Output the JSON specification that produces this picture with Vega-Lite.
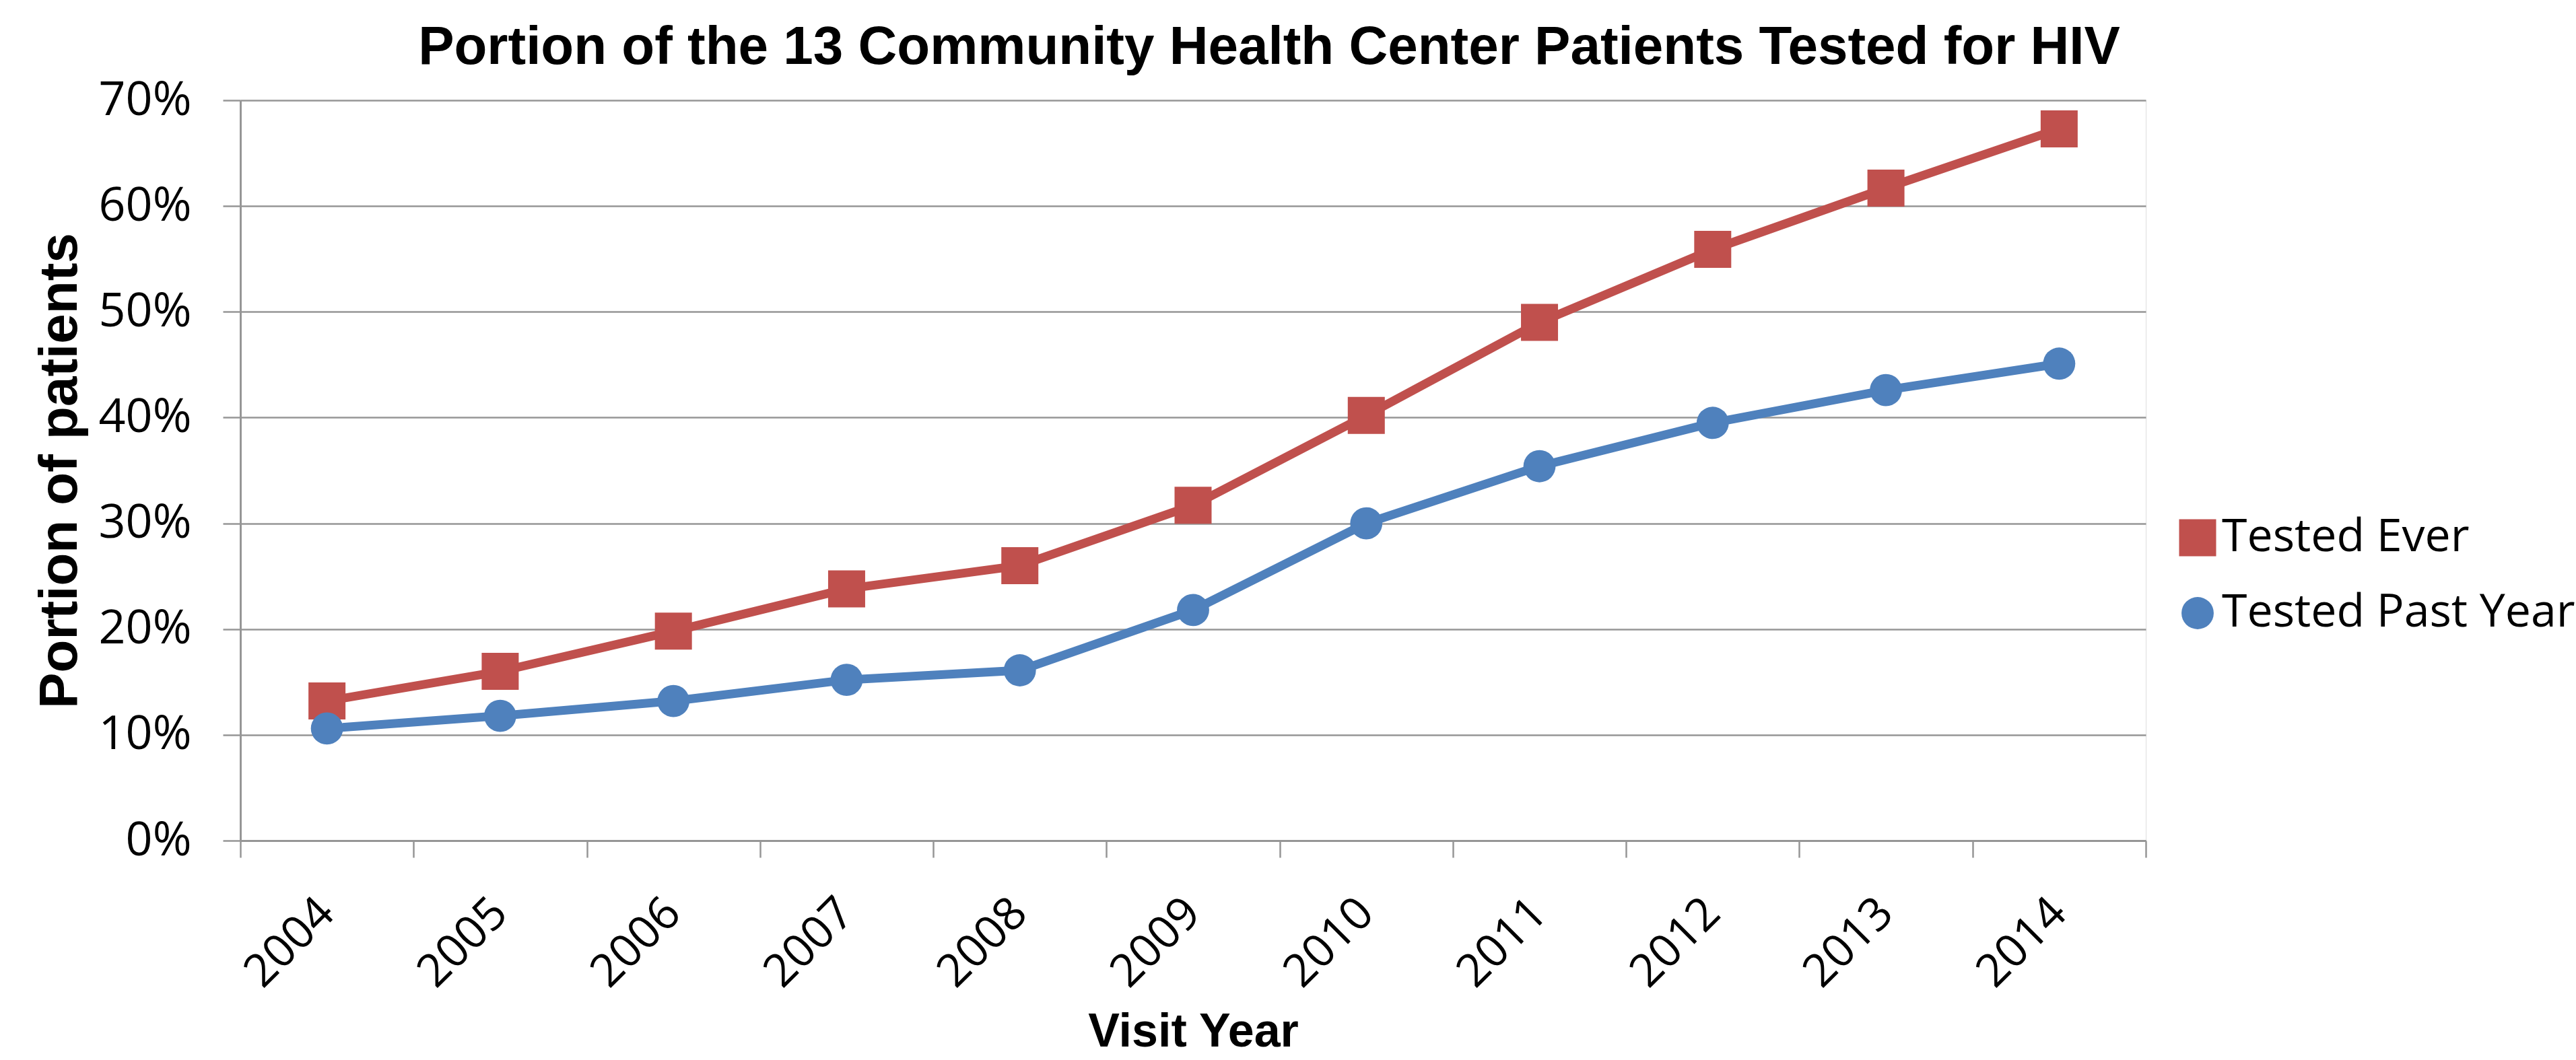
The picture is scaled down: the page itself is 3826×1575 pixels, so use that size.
{
  "$schema": "https://vega.github.io/schema/vega-lite/v6.json",
  "width": 2830,
  "height": 1100,
  "autosize": {"type": "none"},
  "padding": {"left": 357, "top": 149, "right": 639, "bottom": 326},
  "background": "white",
  "title": {
    "text": "Portion of the 13 Community Health Center Patients Tested for HIV",
    "font": "Liberation Sans",
    "fontSize": 80,
    "fontWeight": "bold",
    "color": "black",
    "anchor": "middle",
    "frame": "group",
    "dx": 113,
    "dy": 81,
    "baseline": "alphabetic",
    "offset": 20
  },
  "data": {
    "values": [
      {"year": "2004", "series": "Tested Ever", "value": 0.132},
      {"year": "2005", "series": "Tested Ever", "value": 0.160},
      {"year": "2006", "series": "Tested Ever", "value": 0.198},
      {"year": "2007", "series": "Tested Ever", "value": 0.238},
      {"year": "2008", "series": "Tested Ever", "value": 0.260},
      {"year": "2009", "series": "Tested Ever", "value": 0.317},
      {"year": "2010", "series": "Tested Ever", "value": 0.402},
      {"year": "2011", "series": "Tested Ever", "value": 0.490},
      {"year": "2012", "series": "Tested Ever", "value": 0.559},
      {"year": "2013", "series": "Tested Ever", "value": 0.617},
      {"year": "2014", "series": "Tested Ever", "value": 0.673},
      {"year": "2004", "series": "Tested Past Year", "value": 0.106},
      {"year": "2005", "series": "Tested Past Year", "value": 0.118},
      {"year": "2006", "series": "Tested Past Year", "value": 0.132},
      {"year": "2007", "series": "Tested Past Year", "value": 0.152},
      {"year": "2008", "series": "Tested Past Year", "value": 0.161},
      {"year": "2009", "series": "Tested Past Year", "value": 0.218},
      {"year": "2010", "series": "Tested Past Year", "value": 0.300},
      {"year": "2011", "series": "Tested Past Year", "value": 0.354},
      {"year": "2012", "series": "Tested Past Year", "value": 0.395},
      {"year": "2013", "series": "Tested Past Year", "value": 0.426},
      {"year": "2014", "series": "Tested Past Year", "value": 0.451}
    ]
  },
  "encoding": {
    "x": {
      "field": "year",
      "type": "ordinal",
      "scale": {"paddingInner": 0, "paddingOuter": 0},
      "axis": {
        "title": "Visit Year",
        "titleFont": "Liberation Sans",
        "titleFontSize": 70,
        "titleFontWeight": "bold",
        "titleColor": "black",
        "titlePadding": 50,
        "labelFont": "Open Sans",
        "labelFontSize": 68,
        "labelColor": "black",
        "labelAngle": -45,
        "labelAlign": "right",
        "labelBaseline": "middle",
        "labelPadding": 72,
        "tickBand": "extent",
        "ticks": true,
        "tickSize": 25,
        "tickColor": "#969696",
        "tickWidth": 2.5,
        "domain": true,
        "domainColor": "#969696",
        "domainWidth": 3,
        "grid": false
      }
    },
    "y": {
      "field": "value",
      "type": "quantitative",
      "scale": {"domain": [0, 0.7], "nice": false},
      "axis": {
        "title": "Portion of patients",
        "titleFont": "Liberation Sans",
        "titleFontSize": 80,
        "titleFontWeight": "bold",
        "titleColor": "black",
        "titlePadding": 27,
        "format": ".0%",
        "values": [0, 0.1, 0.2, 0.3, 0.4, 0.5, 0.6, 0.7],
        "labelFont": "Open Sans",
        "labelFontSize": 70,
        "labelColor": "black",
        "labelPadding": 47,
        "tickSize": 26,
        "tickColor": "#969696",
        "tickWidth": 2.5,
        "domain": true,
        "domainColor": "#969696",
        "domainWidth": 3,
        "grid": true,
        "gridColor": "#969696",
        "gridWidth": 2.5
      }
    },
    "color": {
      "field": "series",
      "type": "nominal",
      "scale": {"domain": ["Tested Ever", "Tested Past Year"], "range": ["#C0504D", "#4F81BD"]},
      "legend": {
        "title": null,
        "orient": "none",
        "legendX": 2873,
        "legendY": 616,
        "padding": 0,
        "labelFont": "Open Sans",
        "labelFontSize": 68,
        "labelColor": "black",
        "labelLimit": 1000,
        "labelOffset": 2,
        "symbolSize": 2300,
        "symbolOpacity": 1,
        "symbolStrokeWidth": 0,
        "rowPadding": 44
      }
    }
  },
  "layer": [
    {
      "mark": {"type": "line", "strokeWidth": 13},
      "encoding": {}
    },
    {
      "mark": {"type": "point", "filled": true, "opacity": 1},
      "encoding": {
        "shape": {
          "field": "series",
          "type": "nominal",
          "scale": {"domain": ["Tested Ever", "Tested Past Year"], "range": ["square", "circle"]}
        },
        "size": {
          "field": "series",
          "type": "nominal",
          "scale": {"domain": ["Tested Ever", "Tested Past Year"], "range": [3025, 2290]},
          "legend": null
        }
      }
    }
  ]
}
